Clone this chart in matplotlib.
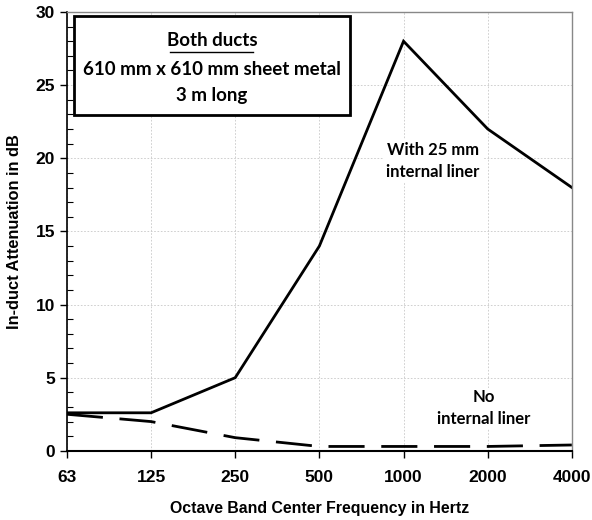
import matplotlib
matplotlib.use('Agg')
import matplotlib.pyplot as plt
from matplotlib.ticker import MultipleLocator

# octave bands and attenuation values
bands = ['63', '125', '250', '500', '1000', '2000', '4000']
lined = [2.6, 2.6, 5.0, 14.0, 28.0, 22.0, 18.0]
unlined = [2.5, 2.0, 0.9, 0.3, 0.3, 0.3, 0.4]

plt.rcParams['font.family'] = ['Liberation Sans', 'DejaVu Sans']

fig = plt.figure(figsize=(5.92, 5.2), dpi=100)
ax = fig.add_axes([0.113, 0.133, 0.853, 0.844])

x = range(len(bands))
ax.plot(x, lined, color='black', lw=2.0, solid_joinstyle='miter')
ax.plot(x, unlined, color='black', lw=2.0, dashes=(13, 6))

ax.set_xlim(0, len(bands) - 1)
ax.set_ylim(0, 30)
ax.set_xticks(list(x))
ax.set_xticklabels(bands)
ax.yaxis.set_major_locator(MultipleLocator(5))
ax.yaxis.set_minor_locator(MultipleLocator(1))
ax.grid(True, which='major', color='#c8c8c8', ls=(0, (2, 2)), lw=0.6)
ax.set_axisbelow(True)

ax.tick_params(axis='both', which='major', labelsize=12.5, direction='out', length=5, width=1)
ax.tick_params(axis='y', which='minor', direction='in', length=4, width=0.8)
for lab in ax.get_xticklabels() + ax.get_yticklabels():
    lab.set_fontweight('bold')
ax.tick_params(axis='x', pad=9)

ax.spines['left'].set_linewidth(1.2)
ax.spines['bottom'].set_linewidth(1.5)
for s in ['top', 'right']:
    ax.spines[s].set_color('#888888')
    ax.spines[s].set_linewidth(1.0)

ax.set_xlabel('Octave Band Center Frequency in Hertz', fontsize=11.4, fontweight='bold', labelpad=11)
ax.set_ylabel('In-duct Attenuation in dB', fontsize=11.8, fontweight='bold', labelpad=10)

# info box
box = plt.Rectangle((0.015, 0.765), 0.545, 0.225, transform=ax.transAxes,
                    facecolor='white', edgecolor='black', lw=2.0, zorder=5)
ax.add_patch(box)
ax.text(0.287, 0.935, 'Both ducts', transform=ax.transAxes, ha='center', va='center',
        fontsize=13.5, fontweight='bold', family='Lato', zorder=6)
ax.plot([0.205, 0.369], [0.908, 0.908], transform=ax.transAxes, color='black', lw=1.0, zorder=6)
ax.text(0.287, 0.87, '610 mm x 610 mm sheet metal', transform=ax.transAxes, ha='center',
        va='center', fontsize=13.5, fontweight='bold', family='Lato', zorder=6)
ax.text(0.287, 0.81, '3 m long', transform=ax.transAxes, ha='center', va='center',
        fontsize=13.5, fontweight='bold', family='Lato', zorder=6)

ax.text(4.35, 19.8, 'With 25 mm\ninternal liner', ha='center', va='center', fontsize=12,
        fontweight='bold', family='Lato', linespacing=1.45,
        bbox=dict(facecolor='white', edgecolor='none', pad=2))
ax.text(4.95, 2.9, 'No\ninternal liner', ha='center', va='center', fontsize=12,
        fontweight='bold', family='Lato', linespacing=1.45,
        bbox=dict(facecolor='white', edgecolor='none', pad=1))

fig.savefig('out.png', dpi=100)
